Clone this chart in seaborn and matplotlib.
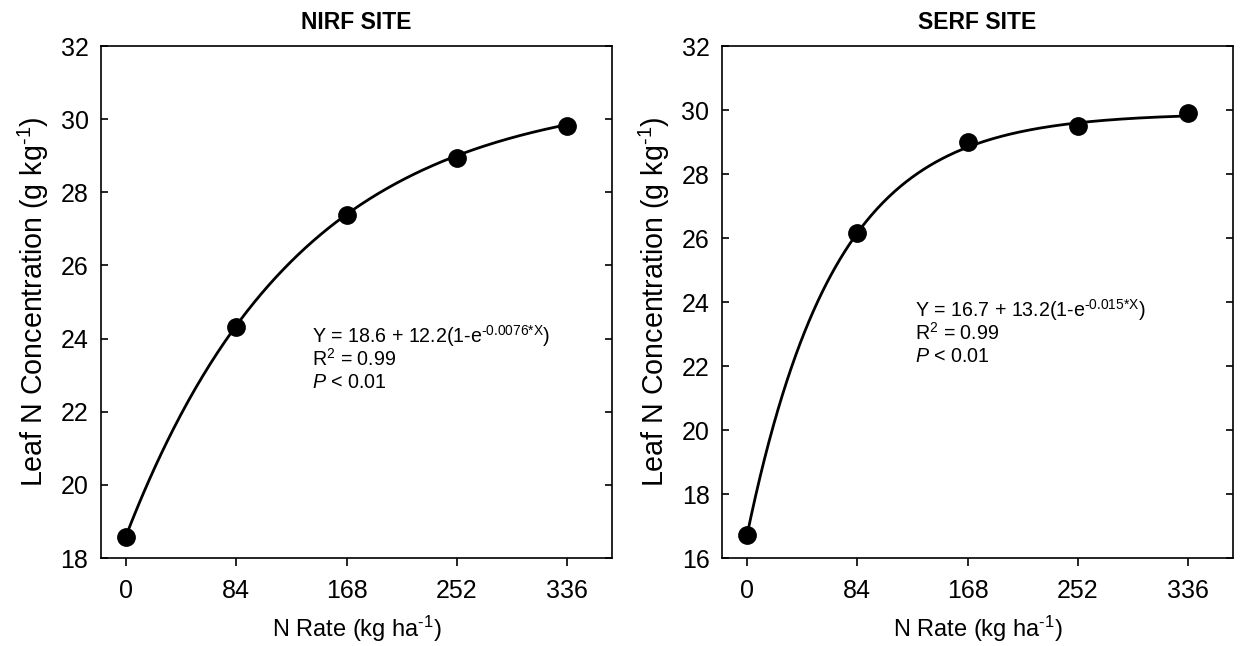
import numpy as np
import pandas as pd
import matplotlib
matplotlib.use("Agg")
import matplotlib.pyplot as plt
import seaborn as sns

sns.set_style("ticks")
plt.rcParams['font.family'] = ['Liberation Sans', 'DejaVu Sans']
plt.rcParams['mathtext.fontset'] = 'custom'
plt.rcParams['mathtext.rm'] = 'Liberation Sans'
plt.rcParams['mathtext.it'] = 'Liberation Sans:italic'
plt.rcParams['mathtext.bf'] = 'Liberation Sans:bold'
for k in ['text.color', 'axes.labelcolor', 'xtick.color', 'ytick.color', 'axes.edgecolor']:
    plt.rcParams[k] = 'black'

n_rate = [0, 84, 168, 252, 336]
nirf_leaf_n = [18.58, 24.32, 27.38, 28.95, 29.82]
serf_leaf_n = [16.72, 26.15, 29.01, 29.50, 29.91]

# fitted model parameters (a + b(1 - exp(-c*X))) as printed on the chart
nirf_fit = [18.6, 12.2, 0.0076]
serf_fit = [16.7, 13.2, 0.015]

titles = ["NIRF SITE", "SERF SITE"]
eq_lines = [
    ["Y = 18.6 + 12.2(1-e$^{\\text{-0.0076*X}}$)", "R$^{\\text{2}}$ = 0.99", "$\\it{P}$ < 0.01"],
    ["Y = 16.7 + 13.2(1-e$^{\\text{-0.015*X}}$)", "R$^{\\text{2}}$ = 0.99", "$\\it{P}$ < 0.01"],
]
x_ticks = [0, 84, 168, 252, 336]
y_ranges = [(18, 32), (16, 32)]
text_pos = [(141.5, 23.88), (128, 23.53)]

fig = plt.figure(figsize=(12.4, 6.46), dpi=100)
ax1 = fig.add_axes([101/1240, 1 - 558/646, 511/1240, 512/646])
ax2 = fig.add_axes([722/1240, 1 - 558/646, 511/1240, 512/646])

for ax, vals, fit, title, eq, yr, tp in zip(
        [ax1, ax2], [nirf_leaf_n, serf_leaf_n], [nirf_fit, serf_fit],
        titles, eq_lines, y_ranges, text_pos):
    xs = np.linspace(0, 336, 300)
    ys = fit[0] + fit[1] * (1 - np.exp(-fit[2] * xs))
    curve = pd.DataFrame({"x": xs, "y": ys})
    pts = pd.DataFrame({"x": n_rate, "y": vals})
    sns.lineplot(data=curve, x="x", y="y", ax=ax, color="black", lw=2.0)
    ax.plot(pts["x"], pts["y"], "o", color="black", ms=12.5, zorder=3)
    ax.set_xlim(-19, 370)
    ax.set_ylim(*yr)
    ax.set_xticks(x_ticks)
    ax.set_yticks(np.arange(yr[0], yr[1] + 1, 2))
    ax.tick_params(axis="x", direction="out", length=6, width=1.2,
                   labelsize=18, pad=9, top=False)
    ax.tick_params(axis="y", direction="in", length=5, width=1.2,
                   labelsize=18, left=True, right=True, pad=9)
    for s in ax.spines.values():
        s.set_linewidth(1.2)
        s.set_visible(True)
    ax.set_xlabel("N Rate (kg ha$^{\\text{-1}}$)", fontsize=17, labelpad=8)
    ax.set_ylabel("Leaf N Concentration (g kg$^{\\text{-1}}$)", fontsize=20.6, labelpad=7)
    ax.set_title(title, fontsize=16.5, fontweight="bold", pad=12)
    for i, line in enumerate(eq):
        ax.annotate(line, xy=tp, xytext=(0, -16.2 * i), textcoords="offset points",
                    fontsize=14.1, va="baseline", ha="left")

fig.savefig("out.png", dpi=100)
